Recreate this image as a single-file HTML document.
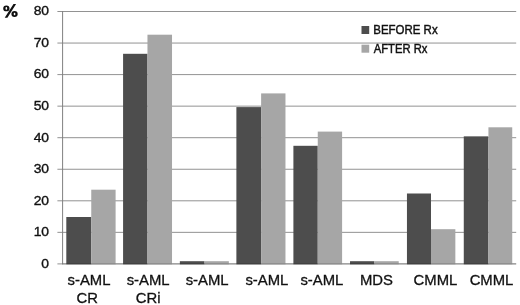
<!DOCTYPE html>
<html><head><meta charset="utf-8">
<style>
html,body{margin:0;padding:0;background:#fff;}
body{width:520px;height:305px;overflow:hidden;position:relative;font-family:"Liberation Sans",sans-serif;}
svg{position:absolute;left:0;top:0;will-change:transform;}
text{font-family:"Liberation Sans",sans-serif;fill:#111;}
.yl{font-size:13px;text-anchor:end;stroke:#111;stroke-width:0.35px;}
.xl{font-size:14.5px;text-anchor:middle;stroke:#111;stroke-width:0.3px;}
.lg{font-size:12.4px;stroke:#111;stroke-width:0.45px;}
</style></head><body>
<svg width="520" height="305" viewBox="0 0 520 305">
<g stroke="#929292" stroke-width="1">
<line x1="57.4" x2="516.2" y1="11.50" y2="11.50"/>
<line x1="57.4" x2="516.2" y1="43.05" y2="43.05"/>
<line x1="57.4" x2="516.2" y1="74.60" y2="74.60"/>
<line x1="57.4" x2="516.2" y1="106.15" y2="106.15"/>
<line x1="57.4" x2="516.2" y1="137.70" y2="137.70"/>
<line x1="57.4" x2="516.2" y1="169.25" y2="169.25"/>
<line x1="57.4" x2="516.2" y1="200.80" y2="200.80"/>
<line x1="57.4" x2="516.2" y1="232.35" y2="232.35"/>
<line x1="57.4" x2="516.2" y1="263.90" y2="263.90"/>
<line x1="62.6" x2="62.6" y1="11" y2="264.4" stroke="#808080"/>
</g>
<g id="bars">
<rect x="66.30" y="217" width="24.95" height="47.30" fill="#4d4d4d"/>
<rect x="91.25" y="189.7" width="24.35" height="74.60" fill="#a6a6a6"/>
<rect x="123.08" y="53.8" width="24.40" height="210.50" fill="#4d4d4d"/>
<rect x="147.47" y="34.7" width="24.55" height="229.60" fill="#a6a6a6"/>
<rect x="179.85" y="261.2" width="24.65" height="3.10" fill="#4d4d4d"/>
<rect x="204.50" y="261.2" width="24.35" height="3.10" fill="#a6a6a6"/>
<rect x="236.38" y="107.1" width="24.75" height="157.20" fill="#4d4d4d"/>
<rect x="261.12" y="93.4" width="24.35" height="170.90" fill="#a6a6a6"/>
<rect x="293.40" y="145.8" width="24.35" height="118.50" fill="#4d4d4d"/>
<rect x="317.75" y="131.6" width="24.35" height="132.70" fill="#a6a6a6"/>
<rect x="350.02" y="261.2" width="24.35" height="3.10" fill="#4d4d4d"/>
<rect x="374.38" y="261.2" width="24.35" height="3.10" fill="#a6a6a6"/>
<rect x="406.95" y="193.5" width="24.05" height="70.80" fill="#4d4d4d"/>
<rect x="431.00" y="229.2" width="24.35" height="35.10" fill="#a6a6a6"/>
<rect x="463.77" y="136.35" width="24.65" height="127.95" fill="#4d4d4d"/>
<rect x="488.43" y="127.3" width="23.80" height="137.00" fill="#a6a6a6"/>
<line x1="62.6" x2="516.2" y1="263.9" y2="263.9" stroke="#000" stroke-opacity="0.22" stroke-width="1"/>
</g>
<text class="yl" transform="translate(49.1,15.3) scale(1.07,1)">80</text>
<text class="yl" transform="translate(49.1,46.8) scale(1.07,1)">70</text>
<text class="yl" transform="translate(49.1,78.4) scale(1.07,1)">60</text>
<text class="yl" transform="translate(49.1,110.0) scale(1.07,1)">50</text>
<text class="yl" transform="translate(49.1,141.5) scale(1.07,1)">40</text>
<text class="yl" transform="translate(49.1,173.0) scale(1.07,1)">30</text>
<text class="yl" transform="translate(49.1,204.6) scale(1.07,1)">20</text>
<text class="yl" transform="translate(49.1,236.1) scale(1.07,1)">10</text>
<text class="yl" transform="translate(49.1,267.7) scale(1.07,1)">0</text>
<path fill="#111" fill-rule="evenodd" d="M3.2,8.4a3.15,2.95 0 1,0 6.3,0a3.15,2.95 0 1,0 -6.3,0zM5.5,8.4a0.85,1.3 0 1,0 1.7,0a0.85,1.3 0 1,0 -1.7,0zM11.4,14.0a3.15,2.95 0 1,0 6.3,0a3.15,2.95 0 1,0 -6.3,0zM13.7,14.0a0.85,1.3 0 1,0 1.7,0a0.85,1.3 0 1,0 -1.7,0zM13.5,4.1L16.1,4.1L7.4,17.65L4.7,17.65z"/>
<rect x="361.5" y="26" width="7.7" height="8" fill="#4d4d4d"/>
<rect x="361.5" y="44.7" width="7.7" height="8" fill="#a6a6a6"/>
<text class="lg" transform="translate(373.3,34.2) scale(0.925,1)">BEFORE Rx</text>
<text class="lg" transform="translate(373.8,52.8) scale(0.905,1)">AFTER Rx</text>
<g class="xl">
<text transform="translate(89.0,285.3) scale(1.026,1)">s-AML</text>
<text transform="translate(87.3,302.7) scale(1.026,1)">CR</text>
<text transform="translate(148.1,285.3) scale(1.026,1)">s-AML</text>
<text transform="translate(148.1,302.7) scale(1.026,1)">CRi</text>
<text transform="translate(207.1,285.3) scale(1.026,1)">s-AML</text>
<text transform="translate(266.9,285.3) scale(1.026,1)">s-AML</text>
<text transform="translate(321.9,285.3) scale(1.026,1)">s-AML</text>
<text transform="translate(376.4,285.3) scale(1.026,1)">MDS</text>
<text transform="translate(435.4,285.3) scale(1.026,1)">CMML</text>
<text transform="translate(491.5,285.3) scale(1.026,1)">CMML</text>
</g>
</svg>
</body></html>
